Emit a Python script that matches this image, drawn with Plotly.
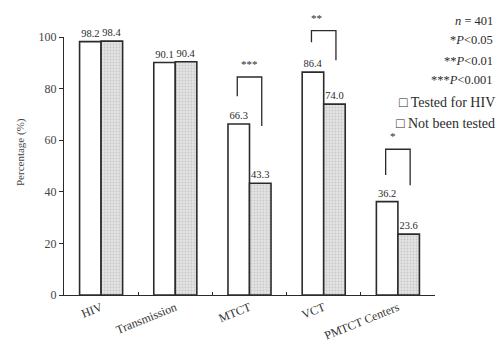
import plotly.graph_objects as go

categories = ["HIV", "Transmission", "MTCT", "VCT", "PMTCT Centers"]
tested = [98.2, 90.1, 66.3, 86.4, 36.2]
not_tested = [98.4, 90.4, 43.3, 74.0, 23.6]

# significance brackets: category index, stars, top level, left leg end, right leg end (in %)
sig_idx = [2, 3, 4]
sig_stars = ["***", "**", "*"]
sig_top = [84.5, 102.5, 56.5]
sig_left_end = [77.0, 98.0, 46.5]
sig_right_end = [65.5, 91.0, 42.5]

legend_notes = ["<i>n</i> = 401", "*<i>P</i><0.05", "**<i>P</i><0.01", "***<i>P</i><0.001"]
series_names = ["Tested for HIV", "Not been tested"]

W, H = 498, 345
L, R, T, B = 64, 63, 37, 50
FONT = "Liberation Serif, Times New Roman, serif"
INK = "#2b2b2b"
Y_RANGE = [0, 100]
X_RANGE = [-0.5, len(categories) - 0.5]

def pxx(px):
    return (px - L) / (W - L - R)

def pxy(py):
    return (H - B - py) / (H - T - B)

def dx(v):  # data x -> paper
    return (v - X_RANGE[0]) / (X_RANGE[1] - X_RANGE[0])

def dy(v):  # data y -> paper
    return (v - Y_RANGE[0]) / (Y_RANGE[1] - Y_RANGE[0])

fig = go.Figure()
fig.add_trace(go.Bar(
    x=categories, y=tested, name=series_names[0],
    marker=dict(color="white", line=dict(color=INK, width=1.6)),
    text=[f"{v:.1f}" for v in tested], textposition="outside",
    textfont=dict(family=FONT, size=10.5, color=INK), constraintext="none",
    cliponaxis=False, showlegend=False,
))
fig.add_trace(go.Bar(
    x=categories, y=not_tested, name=series_names[1],
    marker=dict(color="#dcdcdc", line=dict(color=INK, width=1.6),
                pattern=dict(shape=".", fgcolor="#a8a8a8", bgcolor="#e4e4e4", size=3, solidity=0.3)),
    text=[f"{v:.1f}" for v in not_tested], textposition="outside",
    textfont=dict(family=FONT, size=10.5, color=INK), constraintext="none",
    cliponaxis=False, showlegend=False,
))

off = 0.165
for i, s, top, le, re in zip(sig_idx, sig_stars, sig_top, sig_left_end, sig_right_end):
    x0, x1 = dx(i - off), dx(i + off)
    fig.add_shape(type="path",
                  path=f"M {x0} {dy(le)} L {x0} {dy(top)} L {x1} {dy(top)} L {x1} {dy(re)}",
                  xref="paper", yref="paper", line=dict(color=INK, width=1.3))
    fig.add_annotation(x=dx(i), y=dy(top), text=s, showarrow=False, xref="paper", yref="paper",
                       yanchor="bottom", yshift=5, font=dict(family=FONT, size=11, color=INK))

note_y = [21, 40, 61, 80]
for t, yy in zip(legend_notes, note_y):
    fig.add_annotation(x=pxx(495), y=pxy(yy), xref="paper", yref="paper", text=t,
                       showarrow=False, xanchor="right", yanchor="middle",
                       font=dict(family=FONT, size=12.5, color=INK))
for t, yy in zip(series_names, [102, 123]):
    fig.add_annotation(x=pxx(497), y=pxy(yy), xref="paper", yref="paper", text="□ " + t,
                       showarrow=False, xanchor="right", yanchor="middle",
                       font=dict(family=FONT, size=14, color=INK))

fig.add_annotation(x=pxx(20), y=pxy(152), xref="paper", yref="paper", text="Percentage (%)",
                   textangle=-90, showarrow=False, xanchor="center", yanchor="middle",
                   font=dict(family=FONT, size=11, color="#444"))

fig.update_layout(
    width=W, height=H, margin=dict(l=L, r=R, t=T, b=B),
    paper_bgcolor="white", plot_bgcolor="white",
    barmode="group", bargap=0.42, bargroupgap=0,
    font=dict(family=FONT, color=INK),
)
fig.update_xaxes(showline=True, linecolor=INK, linewidth=1.3, showgrid=False,
                 ticks="inside", ticklen=3, tickcolor=INK, tickson="boundaries",
                 tickangle=-22, tickfont=dict(family=FONT, size=12, color="#333"),
                 range=X_RANGE, automargin=False)
fig.update_yaxes(showline=True, linecolor=INK, linewidth=1.3, showgrid=False,
                 range=Y_RANGE, tickvals=[0, 20, 40, 60, 80, 100], ticks="outside",
                 ticklen=4, tickcolor=INK, zeroline=False, automargin=False,
                 tickfont=dict(family=FONT, size=12, color="#444"))

fig.write_html("out.html", config={"displayModeBar": False},
               post_script="document.body.style.margin='0';")
